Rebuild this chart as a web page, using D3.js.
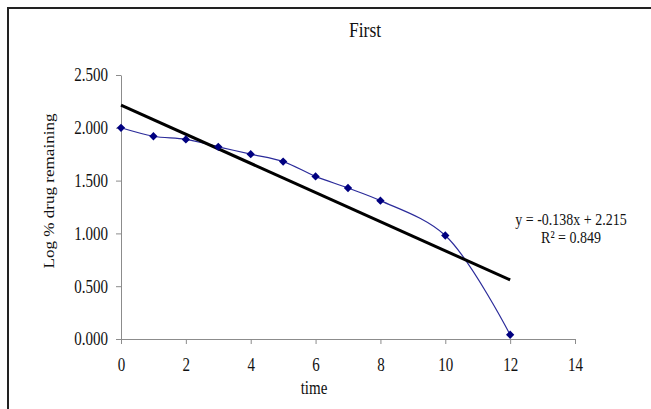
<!DOCTYPE html>
<html>
<head>
<meta charset="utf-8">
<script src="https://cdn.jsdelivr.net/npm/d3@7"></script>
<style>
  body { margin: 0; background: #fff; }
  text { font-family: "Liberation Serif", "DejaVu Serif", serif; fill: #111; }
</style>
</head>
<body>
<div id="chart"></div>
<script>
// data
var times = [0, 1, 2, 3, 4, 5, 6, 7, 8, 10, 12];
var logRemaining = [2.000, 1.920, 1.890, 1.820, 1.750, 1.680, 1.540, 1.430, 1.310, 0.980, 0.040];
var xTicks = [0, 2, 4, 6, 8, 10, 12, 14];
var yTicks = [0, 0.5, 1.0, 1.5, 2.0, 2.5];
var slope = -0.138;
var intercept = 2.215;
var rSquared = 0.849;

var width = 651;
var height = 409;

// text in the original is stretched a bit vertically
var SY = 1.22;

var margin = {
  top: 75,
  bottom: 70,
  left: 121,
  right: 76
};

var svg = d3.select("#chart")
  .append("svg")
  .attr("width", width)
  .attr("height", height);

// outer frame (right and bottom edges fall outside the picture)
svg.append("rect")
  .attr("x", 8)
  .attr("y", 8)
  .attr("width", width + 20)
  .attr("height", height + 20)
  .attr("fill", "none")
  .attr("stroke", "#222")
  .attr("stroke-width", 2);

var x = d3.scaleLinear()
  .domain([0, 14])
  .range([margin.left, width - margin.right]);

var y = d3.scaleLinear()
  .domain([0, 2.5])
  .range([height - margin.bottom, margin.top]);

var xAxis = svg.append("g")
  .attr("transform", "translate(0," + y(0) + ")")
  .call(d3.axisBottom(x).tickValues(xTicks).tickSize(5).tickSizeOuter(0));

var yAxis = svg.append("g")
  .attr("transform", "translate(" + x(0) + ",0)")
  .call(d3.axisLeft(y).tickValues(yTicks).tickSize(5).tickSizeOuter(0)
    .tickFormat(d3.format(".3f")));

[xAxis, yAxis].forEach(function(a) {
  a.select(".domain").attr("stroke", "#8c8c8c");
  a.selectAll(".tick line").attr("stroke", "#8c8c8c");
  a.selectAll(".tick text")
    .style("font-family", "'Liberation Serif', serif")
    .style("font-size", "15px")
    .attr("fill", "#111")
    .attr("transform", "scale(1," + SY + ")");
});

xAxis.selectAll(".tick text")
  .attr("dy", null)
  .attr("y", 32 / SY);

yAxis.selectAll(".tick text")
  .attr("x", -13);

// data series, smoothed like the spreadsheet line
var pts = times.map(function(t, i) { return [t, logRemaining[i]]; });

var line = d3.line()
  .x(function(d) { return x(d[0]); })
  .y(function(d) { return y(d[1]); })
  .curve(d3.curveCatmullRom.alpha(0.5));

svg.append("path")
  .datum(pts)
  .attr("d", line)
  .attr("fill", "none")
  .attr("stroke", "#2b2b9a")
  .attr("stroke-width", 1.2);

// linear trend line
var trend = [0, 12].map(function(t) { return [t, slope * t + intercept]; });

svg.append("path")
  .datum(trend)
  .attr("d", d3.line()
    .x(function(d) { return x(d[0]); })
    .y(function(d) { return y(d[1]); }))
  .attr("stroke", "#000")
  .attr("stroke-width", 3);

svg.append("g")
  .selectAll("path")
  .data(pts)
  .enter().append("path")
  .attr("transform", function(d) { return "translate(" + x(d[0]) + "," + y(d[1]) + ")"; })
  .attr("d", d3.symbol().type(d3.symbolDiamond2).size(44))
  .attr("fill", "#000080");

// labels
function label(px, py, size, str, rotate) {
  var tr = "translate(" + px + "," + py + ")";
  tr += rotate ? " rotate(-90) scale(" + SY + ",1)" : " scale(1," + SY + ")";
  return svg.append("text")
    .attr("transform", tr)
    .attr("text-anchor", "middle")
    .style("font-size", size + "px")
    .text(str);
}

label(365, 37, 17.5, "First");
label(314, 394, 15, "time");
label(54, 191, 14, "Log % drug remaining", true);
label(571, 225, 14, "y = " + slope.toFixed(3) + "x + " + intercept.toFixed(3));
label(571, 243, 14, "R² = " + rSquared.toFixed(3));
</script>
</body>
</html>
